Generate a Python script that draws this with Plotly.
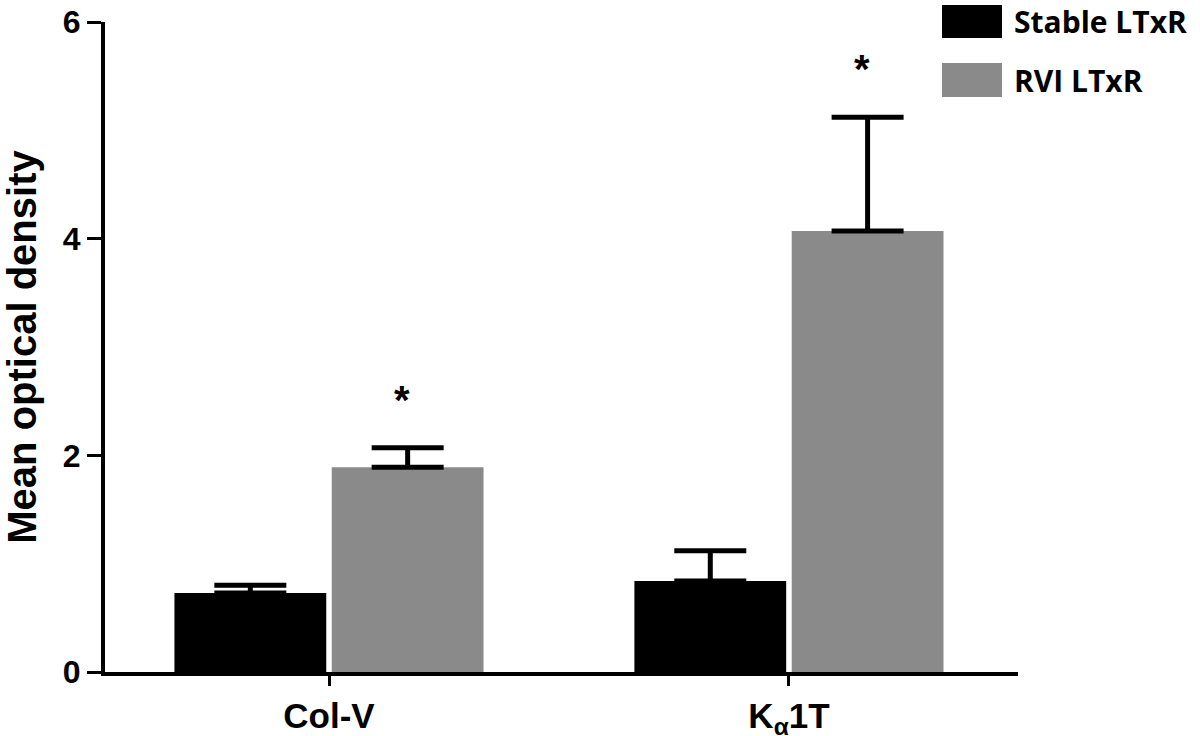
import plotly.graph_objects as go

categories = ["Col-V", "K<sub>α</sub>1T"]
stable_values = [0.73, 0.84]
stable_err = [0.07, 0.28]
rvi_values = [1.89, 4.07]
rvi_err = [0.18, 1.05]
series_names = ["Stable LTxR", "RVI LTxR"]
y_ticks = [0, 2, 4, 6]
significant = [True, True]

x_pos = list(range(len(categories)))
BAR_W = 0.33
BLACK = "#000000"
GREY = "#8a8a8a"

fig = go.Figure()
fig.add_trace(go.Bar(
    x=x_pos, y=stable_values, name=series_names[0],
    width=BAR_W, offset=-0.336,
    marker=dict(color=BLACK, line=dict(width=0)),
    error_y=dict(type="data", array=stable_err, arrayminus=[0] * len(stable_err),
                 symmetric=False, color=BLACK, thickness=5, width=36),
    showlegend=False,
))
fig.add_trace(go.Bar(
    x=x_pos, y=rvi_values, name=series_names[1],
    width=BAR_W, offset=0.006,
    marker=dict(color=GREY, line=dict(width=0)),
    error_y=dict(type="data", array=rvi_err, arrayminus=[0] * len(rvi_err),
                 symmetric=False, color=BLACK, thickness=5, width=36),
    showlegend=False,
))

# significance asterisks above RVI bars
for i, sig in enumerate(significant):
    if sig:
        fig.add_annotation(
            x=x_pos[i] + 0.006 + BAR_W / 2 - 0.012,
            y=rvi_values[i] + rvi_err[i] + 0.49,
            text="*", showarrow=False, xanchor="center", yanchor="middle",
            font=dict(family="Liberation Sans", size=40, color="black", weight="bold"),
            yshift=-5,
        )

# custom legend (large swatches); paper coords relative to plot area
PLOT_L, PLOT_R, PLOT_T, PLOT_B = 105, 1018, 22, 672
def px_x(p):
    return (p - PLOT_L) / (PLOT_R - PLOT_L)
def px_y(p):
    return (PLOT_B - p) / (PLOT_B - PLOT_T)

legend_items = [(series_names[0], BLACK, 5, 38), (series_names[1], GREY, 63, 97)]
for name, col, top, bot in legend_items:
    fig.add_shape(type="rect", xref="paper", yref="paper",
                  x0=px_x(942), x1=px_x(1002), y0=px_y(bot), y1=px_y(top),
                  fillcolor=col, line=dict(width=0))
    fig.add_annotation(xref="paper", yref="paper", x=px_x(1012), y=px_y((top + bot) / 2),
                       text=name, showarrow=False, xanchor="left", yanchor="middle",
                       font=dict(family="Open Sans", size=30, color="black", weight="bold"))

fig.update_layout(
    width=1200, height=736,
    margin=dict(l=PLOT_L, r=1200 - PLOT_R, t=PLOT_T, b=736 - PLOT_B, autoexpand=False),
    plot_bgcolor="white", paper_bgcolor="white",
)
fig.update_xaxes(
    range=[-0.487, 1.498], tickvals=x_pos, ticktext=categories,
    showline=True, linecolor="black", linewidth=4,
    ticks="outside", ticklen=10, tickwidth=3, tickcolor="black",
    showgrid=False, zeroline=False, automargin=False, ticklabeloverflow="allow",
    tickfont=dict(family="Liberation Sans", size=35, color="black", weight="bold"),
)
fig.update_yaxes(
    range=[0, 6], tickvals=y_ticks,
    showline=True, linecolor="black", linewidth=4,
    ticks="outside", ticklen=14, tickwidth=3, tickcolor="black",
    showgrid=False, zeroline=False, automargin=False, ticklabeloverflow="allow",
    tickfont=dict(family="Liberation Sans", size=32, color="black", weight="bold"),
    title=dict(text="Mean optical density", standoff=26,
               font=dict(family="Liberation Sans", size=40, color="black", weight="bold")),
)

fig.write_html(
    "out.html",
    config={"displayModeBar": False},
    post_script="document.body.style.margin='0';document.body.style.overflow='hidden';",
)
